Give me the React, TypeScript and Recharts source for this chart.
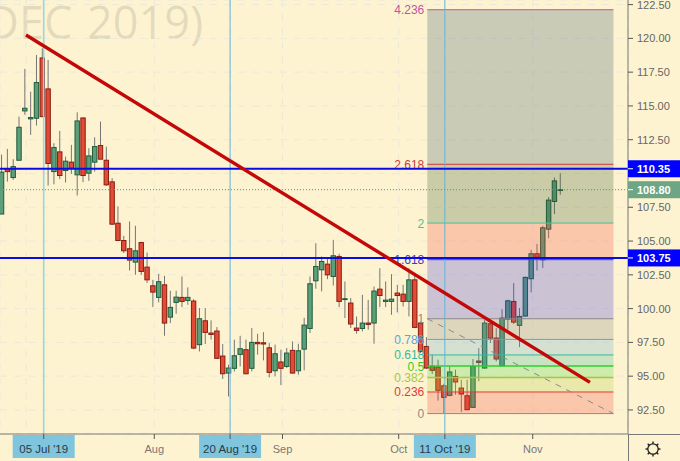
import { Bar, CartesianGrid, ComposedChart, ReferenceArea, ReferenceLine, XAxis, YAxis } from 'recharts'

const FONT = '"Liberation Sans", Arial, sans-serif'

const opens = [
  107.0, 110.34, 109.7, 110.98, 114.63, 114.04, 114.09, 118.55, 116.26, 110.14, 111.6, 110.22, 110.84, 109.9, 114.11,
  110.02, 110.84, 112.07, 110.98, 109.38, 106.32, 105.04, 104.43, 103.44, 104.89, 103.07, 101.69, 100.83, 101.76, 99.37,
  100.46, 100.83, 100.6, 100.56, 97.33, 99.1, 98.19, 98.34, 96.49, 95.23, 95.58, 96.61, 96.96, 95.58, 97.5,
  97.47, 97.1, 95.4, 96.05, 95.72, 96.91, 95.4, 97.0, 98.53, 102.06, 102.87, 103.29, 102.38, 103.86, 100.68,
  100.41, 98.56, 98.53, 98.93, 98.93, 101.44, 100.53, 100.53, 101.15, 101.07, 100.53, 102.13, 98.93, 97.2, 95.72,
  95.67, 94.29, 93.58, 94.98, 94.12, 93.55, 92.69, 96.12, 95.6, 98.88, 97.82, 95.77, 99.22, 100.53, 98.76,
  99.45, 102.21, 104.06, 103.61, 105.88, 107.93, 108.78,
]
const closes = [
  110.1, 110.14, 110.51, 113.42, 114.83, 114.14, 116.73, 114.21, 110.74, 111.92, 109.85, 110.91, 110.39, 113.89, 109.85,
  111.3, 111.99, 111.06, 109.16, 106.25, 105.04, 104.28, 103.59, 104.28, 102.75, 102.13, 101.22, 101.99, 98.93, 100.09,
  100.85, 100.53, 100.83, 97.08, 99.25, 98.24, 98.09, 96.32, 95.18, 95.6, 96.51, 97.03, 95.18, 97.5, 97.4,
  97.38, 95.28, 96.66, 95.58, 96.71, 95.23, 96.88, 98.78, 101.84, 103.12, 103.49, 102.5, 103.91, 100.53, 100.73,
  98.86, 98.39, 98.93, 98.83, 101.3, 100.97, 100.63, 100.7, 100.97, 100.53, 102.13, 98.61, 96.83, 95.6, 95.43,
  93.95, 93.43, 95.31, 94.57, 93.68, 92.52, 95.72, 96.02, 98.93, 97.82, 96.27, 99.3, 100.58, 99.0, 99.42,
  102.31, 104.06, 103.81, 105.98, 108.03, 109.45, 108.8,
]
const highs = [
  111.4, 111.82, 111.06, 114.21, 117.74, 116.06, 118.77, 119.27, 118.4, 112.24, 113.15, 111.25, 112.12, 114.53, 114.16,
  111.87, 112.68, 113.84, 111.99, 109.65, 107.56, 105.39, 106.45, 106.13, 104.94, 104.15, 102.13, 102.58, 102.43, 101.32,
  101.32, 102.38, 101.57, 100.7, 100.04, 100.04, 99.13, 98.63, 97.38, 95.85, 97.7, 97.99, 97.7, 98.56, 98.14,
  98.26, 97.45, 97.33, 96.96, 97.08, 97.57, 97.4, 99.32, 102.38, 104.84, 103.86, 103.74, 105.09, 104.06, 102.01,
  100.78, 99.42, 101.02, 100.65, 101.64, 102.99, 102.01, 102.55, 101.76, 101.76, 102.99, 102.55, 99.05, 97.89, 96.59,
  96.22, 94.44, 95.72, 95.48, 94.74, 94.74, 96.27, 97.08, 99.17, 99.22, 98.56, 99.96, 100.65, 101.89, 100.04,
  102.38, 104.35, 104.8, 106.13, 108.25, 109.7, 110.02,
]
const lows = [
  107.0, 109.4, 109.53, 110.98, 114.34, 112.86, 113.55, 114.16, 109.11, 109.2, 109.58, 109.33, 109.97, 108.37, 109.36,
  109.45, 110.14, 111.06, 109.08, 106.18, 105.0, 104.11, 102.82, 102.5, 102.5, 101.89, 100.11, 100.46, 97.99, 98.93,
  99.62, 100.11, 100.28, 97.0, 96.83, 97.38, 97.7, 96.27, 94.79, 93.5, 95.35, 95.72, 95.13, 95.35, 96.59,
  96.17, 94.91, 94.98, 94.34, 95.6, 95.18, 95.11, 95.43, 98.19, 101.47, 101.27, 102.18, 101.71, 100.11, 99.3,
  98.56, 98.14, 98.31, 98.44, 97.4, 100.11, 100.11, 99.54, 99.72, 100.16, 99.42, 98.56, 96.71, 95.55, 95.16,
  93.19, 92.27, 93.5, 93.63, 92.35, 92.47, 92.64, 94.62, 95.55, 97.45, 96.09, 95.72, 98.44, 98.86, 97.15,
  99.42, 101.2, 102.82, 103.0, 105.21, 107.0, 108.42,
]

const priceTicks = [92.5, 95, 97.5, 100, 102.5, 105, 107.5, 110, 112.5, 115, 117.5, 120, 122.5]
const badgePrices = [108.8, 110.35, 103.75]
const badgeColors = ['#6da585', '#0000ff', '#0000ff']

const timeTicks = [4.15, 7.17, 26.17, 39.2, 48.2, 68.17, 76.1, 91.2]
const timeLabels = ['', "05 Jul '19", 'Aug', "20 Aug '19", 'Sep', 'Oct', "11 Oct '19", 'Nov']
const markedDates = [7.17, 39.2, 76.1]

const fibRatios = ['0', '0.236', '0.382', '0.5', '0.618', '0.786', '1', '1.618', '2', '2.618', '4.236']
const fibPrices = [92.23, 93.83, 94.91, 95.75, 96.57, 97.72, 99.25, 103.62, 106.33, 110.68, 122.12]
const fibLineColors = ['#8a8a8a', '#e53935', '#a8c83c', '#2ccf2c', '#35b89c', '#5aa8d2', '#8a8a8a', '#3a3ad8', '#45c49a', '#cc3b3b', '#c2569c']
const fibZoneColors = ['#f44336', '#aacc3c', '#3cd23c', '#2fb89a', '#5aa8d0', '#808080', '#3232dc', '#f44336', '#2f542c', '#2f546c']

const candles = opens.map((open, i) => ({
  index: i,
  open,
  close: closes[i],
  high: highs[i],
  low: lows[i],
  range: [lows[i], highs[i]],
}))

function Candle(props: any) {
  const { x, y, width, height, payload } = props
  const { open, close, high, low } = payload
  const cx = x + width / 2
  const at = (price: number) => y + ((high - price) / (high - low)) * height
  const up = close >= open
  const top = at(Math.max(open, close))
  const bottom = at(Math.min(open, close))
  return (
    <g>
      <line x1={cx} x2={cx} y1={y} y2={y + height} stroke="#757575" strokeWidth={1} />
      <rect
        x={cx - 2.2}
        y={top}
        width={4.4}
        height={Math.max(bottom - top, 0.8)}
        fill={up ? '#5d9f7a' : '#e24c34'}
        stroke={up ? '#1f5c3c' : '#8a1c10'}
        strokeWidth={1}
      />
    </g>
  )
}

function TimeTick(props: any) {
  const { x, y, index } = props
  const text = timeLabels[index]
  if (!text) return null
  const marked = text.includes("'")
  return (
    <g>
      {marked && <rect x={x - 31} y={y + 1} width={62} height={23} fill="#7fc5de" />}
      <line x1={x} x2={x} y1={y} y2={y + 5} stroke="#555" />
      <text
        x={x}
        y={y + 19}
        textAnchor="middle"
        fontFamily={FONT}
        fontSize={marked ? 11.5 : 11}
        fill={marked ? '#2b3a42' : '#777'}
      >
        {text}
      </text>
    </g>
  )
}

function PriceTick(props: any) {
  const { x, y, payload } = props
  const badge = badgePrices.indexOf(payload.value)
  if (badge >= 0) {
    return (
      <g>
        <rect x={x} y={y - 8.5} width={52} height={17} fill={badgeColors[badge]} />
        <line x1={x} x2={x + 5} y1={y} y2={y} stroke="#fff" />
        <text x={x + 9} y={y + 4} fontFamily={FONT} fontSize={11} fontWeight="bold" fill="#fff">
          {payload.value.toFixed(2)}
        </text>
      </g>
    )
  }
  return (
    <g>
      <line x1={x} x2={x + 5} y1={y} y2={y} stroke="#555" />
      <text x={x + 9} y={y + 4} fontFamily={FONT} fontSize={11} fill="#666">
        {payload.value.toFixed(2)}
      </text>
    </g>
  )
}

function FibLabel({ viewBox, text, color }: any) {
  return (
    <text x={viewBox.x - 3} y={viewBox.y + 4.5} textAnchor="end" fontFamily={FONT} fontSize={12} fill={color}>
      {text}
    </text>
  )
}

function Gear() {
  const spokes = [0, 45, 90, 135, 180, 225, 270, 315]
  return (
    <svg width={20} height={20} style={{ position: 'absolute', left: 643, top: 439 }}>
      {spokes.map((a) => (
        <line key={a} x1={10} y1={2.5} x2={10} y2={5} stroke="#222" strokeWidth={1.4} transform={`rotate(${a} 10 10)`} />
      ))}
      <circle cx={10} cy={10} r={5.2} fill="none" stroke="#222" strokeWidth={1.3} />
    </svg>
  )
}

export default function App() {
  return (
    <div style={{ position: 'absolute', left: 0, top: 0, width: 680, height: 461, overflow: 'hidden', background: '#fef3d1' }}>
      <div
        style={{
          position: 'absolute',
          left: -27,
          top: -3,
          fontFamily: '"Open Sans", sans-serif',
          fontSize: 45,
          lineHeight: '50px',
          wordSpacing: 3,
          whiteSpace: 'nowrap',
          color: 'rgba(110,110,110,0.19)',
        }}
      >
        (DEC 2019)
      </div>
      <ComposedChart
        width={680}
        height={461}
        data={candles}
        margin={{ top: 0, right: 0, bottom: 0, left: 0 }}
        style={{ position: 'absolute', left: 0, top: 0 }}
      >
        <CartesianGrid stroke="#ece8d8" strokeDasharray="7 7" />
        <XAxis
          dataKey="index"
          type="number"
          domain={[-0.337, 107.57]}
          allowDataOverflow
          ticks={timeTicks}
          interval={0}
          height={27}
          axisLine={{ stroke: '#777' }}
          tickLine={false}
          tickSize={0}
          tickMargin={0}
          tick={TimeTick}
        />
        <YAxis
          orientation="right"
          domain={[90.72, 122.84]}
          allowDataOverflow
          ticks={[...priceTicks, ...badgePrices]}
          interval={0}
          width={52}
          axisLine={{ stroke: '#777' }}
          tickLine={false}
          tickSize={0}
          tickMargin={0}
          tick={PriceTick}
        />
        <Bar dataKey="range" barSize={5} isAnimationActive={false} shape={Candle} />
        {fibZoneColors.map((color, i) => (
          <ReferenceArea
            key={color + i}
            x1={73.08}
            x2={105.07}
            y1={fibPrices[i]}
            y2={fibPrices[i + 1]}
            fill={color}
            fillOpacity={0.25}
            stroke="none"
            zIndex={350}
          />
        ))}
        {fibPrices.map((price, i) => (
          <ReferenceLine
            key={price}
            segment={[
              { x: 73.08, y: price },
              { x: 105.07, y: price },
            ]}
            stroke={fibLineColors[i]}
            strokeWidth={i === 2 || i === 3 ? 1.5 : 1}
            label={<FibLabel text={fibRatios[i]} color={fibLineColors[i]} />}
            zIndex={360}
          />
        ))}
        <ReferenceLine
          segment={[
            { x: 73.08, y: 99.25 },
            { x: 105.07, y: 92.23 },
          ]}
          stroke="#8a8a8a"
          strokeDasharray="6 6"
          zIndex={360}
        />
        {markedDates.map((d, i) => (
          <ReferenceLine key={d} x={d} stroke={i === 0 ? '#9ad6e2' : '#62b6dc'} strokeWidth={i === 0 ? 1.6 : 1} zIndex={360} />
        ))}
        <ReferenceLine y={108.8} stroke="#5a9a78" strokeDasharray="1 2" zIndex={360} />
        <ReferenceLine y={110.35} stroke="#0a0ae6" strokeWidth={2} zIndex={370} />
        <ReferenceLine y={103.75} stroke="#0a0ae6" strokeWidth={2} zIndex={370} />
        <ReferenceLine
          segment={[
            { x: 4.13, y: 120.25 },
            { x: 101.03, y: 94.54 },
          ]}
          stroke="#c40808"
          strokeWidth={3.4}
          zIndex={380}
        />
      </ComposedChart>
      <div style={{ position: 'absolute', left: 628, top: 434, width: 52, height: 1, background: '#777' }} />
      <div style={{ position: 'absolute', left: 628, top: 434, width: 1, height: 27, background: '#777' }} />
      <Gear />
    </div>
  )
}
